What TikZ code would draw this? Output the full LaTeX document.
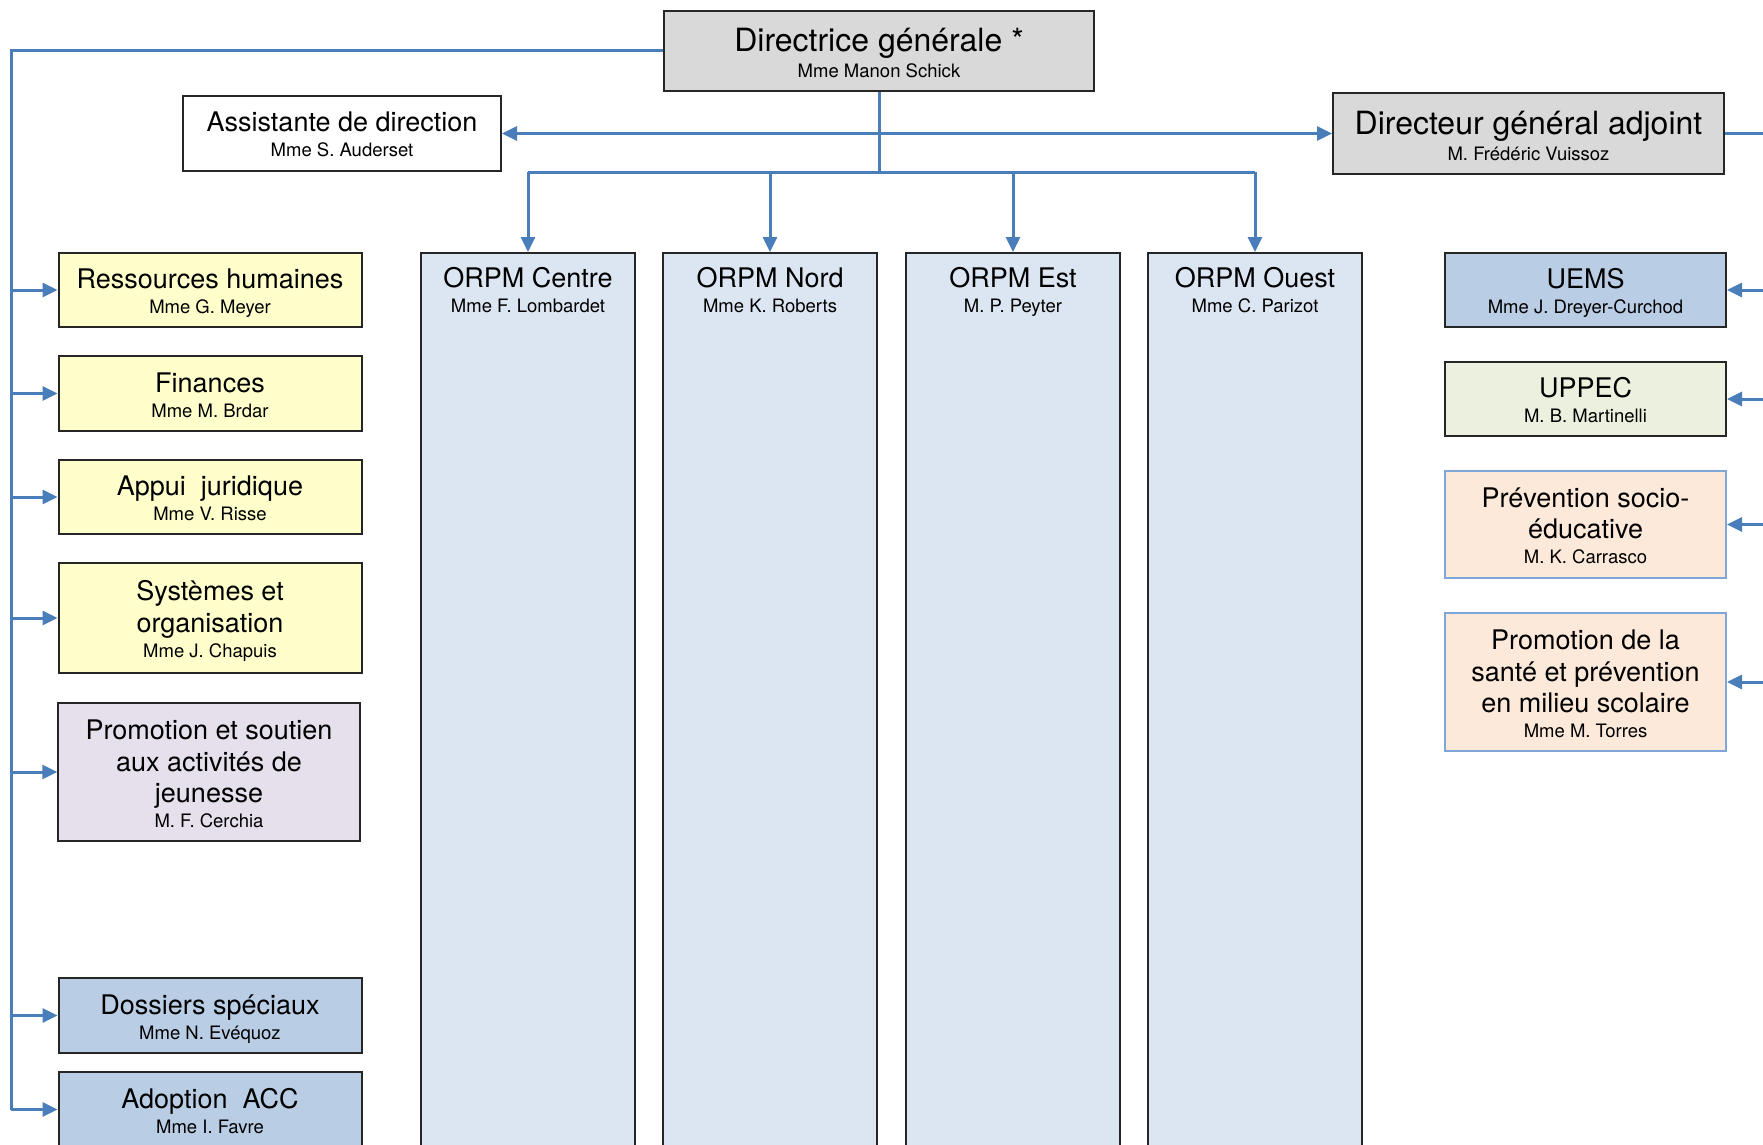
\documentclass[tikz,border=0pt]{standalone}
\usepackage{fontspec}
\setmainfont{TeX Gyre Heros}
\usepackage{xcolor}
\usetikzlibrary{positioning,arrows.meta}

\definecolor{headgrey}{HTML}{D9D9D9}
\definecolor{unityellow}{HTML}{FFFFCC}
\definecolor{orpmblue}{HTML}{DCE6F2}
\definecolor{unitblue}{HTML}{B9CDE5}
\definecolor{unitlilac}{HTML}{E5E0EC}
\definecolor{unitgreen}{HTML}{EBF1DE}
\definecolor{unitpeach}{HTML}{FDE9D9}
\definecolor{linkblue}{HTML}{4A7EBB}
\definecolor{peachedge}{HTML}{7EA6D8}

% title lines, then the name of the person in charge
\newcommand{\card}[3][27pt]{\rule{0pt}{#1}#2\\[-6.5pt]{\fontsize{18.5}{22}\selectfont\rule[-5pt]{0pt}{5pt}#3}}

\begin{document}
\begin{tikzpicture}[
    x=1pt, y=-1pt,
    unit/.style={rectangle, draw=black!85, line width=2pt, align=center, inner sep=0pt,
        font=\fontsize{27}{31.5}\selectfont},
    head/.style={unit, fill=headgrey, font=\fontsize{32}{32.5}\selectfont},
    leftunit/.style={unit, minimum width=303pt},
    rightunit/.style={unit, minimum width=281pt},
    orpm/.style={unit, fill=orpmblue, minimum width=214pt, minimum height=950pt},
    orpmtext/.style={anchor=north, yshift=-8pt, inner sep=0pt, align=center,
        font=\fontsize{27}{31.5}\selectfont},
    link/.style={draw=linkblue, line width=3pt},
    arrow/.style={link, ->, >={Triangle[length=15pt,width=14pt]}}
]
    \clip (0,0) rectangle (1763,1145);

    % direction
    \node[head, minimum width=430pt, minimum height=80pt] (dir) at (879,51) {\card[33pt]{Directrice générale *}{Mme Manon Schick}};
    \node[unit, fill=white, minimum width=318pt, minimum height=74pt] (asst) at (342,133.5) {\card{Assistante de direction}{Mme S. Auderset}};
    \node[head, minimum width=391pt, minimum height=80pt] (dga) at (1528.5,133.5) {\card[33pt]{Directeur général adjoint}{M. Frédéric Vuissoz}};

    % offices regionaux
    \node[orpm, label={[orpmtext]north:\card{ORPM Centre}{Mme F. Lombardet}}] (centre) at (528,728) {};
    \node[orpm, label={[orpmtext]north:\card{ORPM Nord}{Mme K. Roberts}}] (nord) at (770,728) {};
    \node[orpm, label={[orpmtext]north:\card{ORPM Est}{M. P. Peyter}}] (est) at (1013,728) {};
    \node[orpm, label={[orpmtext]north:\card{ORPM Ouest}{Mme C. Parizot}}] (ouest) at (1255,728) {};

    % unites de gauche
    \node[leftunit, fill=unityellow, minimum height=74pt] (rh) at (210,290) {\card{Ressources humaines}{Mme G. Meyer}};
    \node[leftunit, fill=unityellow, minimum height=75pt] (fin) at (210,393.5) {\card{Finances}{Mme M. Brdar}};
    \node[leftunit, fill=unityellow, minimum height=74pt] (jur) at (210,497) {\card{Appui~~juridique}{Mme V. Risse}};
    \node[leftunit, fill=unityellow, minimum height=110pt] (sys) at (210,618) {\card{Systèmes et\\organisation}{Mme J. Chapuis}};
    \node[leftunit, fill=unitlilac, minimum width=301.5pt, minimum height=138pt] (jeun) at (209,772) {\card[28pt]{Promotion et soutien\\aux activités de\\jeunesse}{M. F. Cerchia}};
    \node[leftunit, fill=unitblue, minimum height=75pt] (doss) at (210,1015.5) {\card{Dossiers spéciaux}{Mme N. Evéquoz}};
    \node[leftunit, fill=unitblue, minimum height=75pt] (adop) at (210,1109.5) {\card{Adoption~~ACC}{Mme I. Favre}};

    % unites de droite
    \node[rightunit, fill=unitblue, minimum height=74pt] (uems) at (1585.5,290) {\card{UEMS}{Mme J. Dreyer-Curchod}};
    \node[rightunit, fill=unitgreen, minimum height=74pt] (uppec) at (1585.5,399) {\card{UPPEC}{M. B. Martinelli}};
    \node[rightunit, fill=unitpeach, draw=peachedge, minimum height=107pt] (prev) at (1585.5,524.5) {\card{Prévention socio-\\éducative}{M. K. Carrasco}};
    \node[rightunit, fill=unitpeach, draw=peachedge, minimum height=138pt] (sante) at (1585.5,682) {\card[28pt]{Promotion de la\\santé et prévention\\en milieu scolaire}{Mme M. Torres}};

    \coordinate (hub) at (879,172);
    \coordinate (ltrunk) at (11,51);
    \coordinate (rtrunk) at (1763,133.5);

    % liens
    \draw[arrow, <->] (asst.east) -- (dga.west);
    \draw[link] (dir.south) -- (hub);
    \draw[link] (centre.north |- hub) -- (ouest.north |- hub);
    \foreach \n in {centre,nord,est,ouest}
        \draw[arrow] (\n.north |- hub) -- (\n.north);

    \draw[link] (dir.west) -- (ltrunk) -- (ltrunk |- adop.west);
    \foreach \n in {rh,fin,jur,sys,jeun,doss,adop}
        \draw[arrow] (ltrunk |- \n.west) -- (\n.west);

    \draw[link] (dga.east) -- (rtrunk);
    \foreach \n in {uems,uppec,prev,sante}
        \draw[arrow] (rtrunk |- \n.east) -- (\n.east);
\end{tikzpicture}
\end{document}
